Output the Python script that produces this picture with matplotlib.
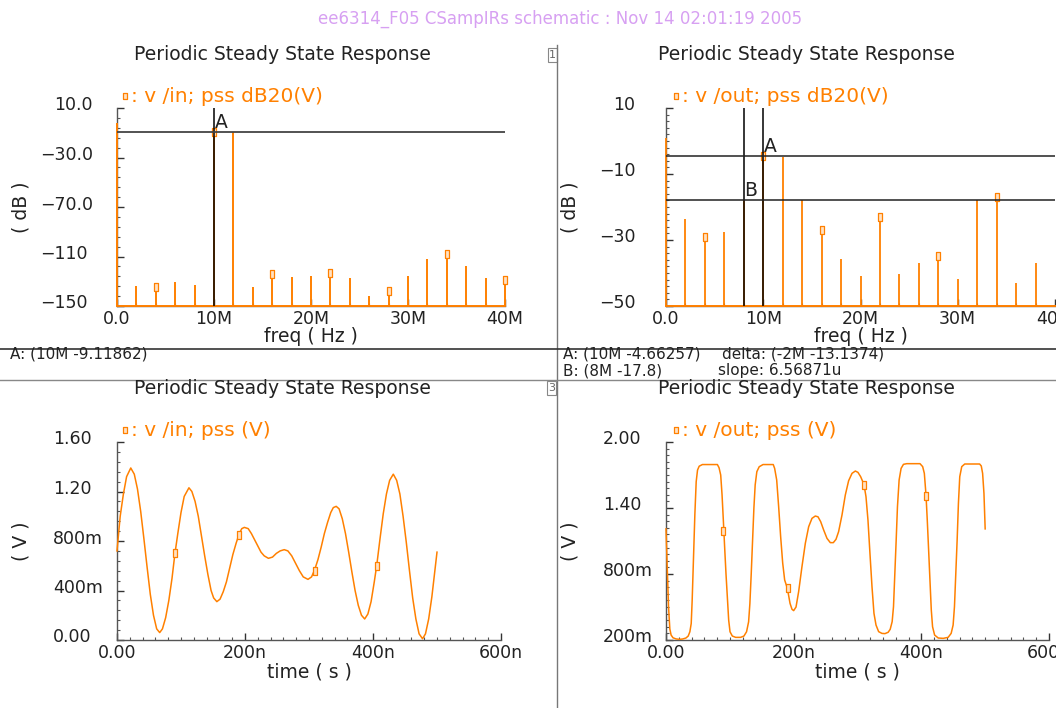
import matplotlib
matplotlib.use('Agg')
import matplotlib.pyplot as plt
import matplotlib.transforms as mtransforms
from matplotlib.path import Path
from matplotlib.patches import Rectangle
from matplotlib.lines import Line2D

# ---- data ----
freq_M = [0, 2, 4, 6, 8, 10, 12, 14, 16, 18, 20, 22, 24, 26, 28, 30, 32, 34, 36, 38, 40]
vin_db = [-2.4, -133.8, -135.0, -130.3, -132.8, -9.12, -9.12, -134.4, -124.0, -126.6, -125.8,
          -123.6, -127.4, -141.6, -137.9, -125.8, -112.0, -108.0, -117.7, -127.6, -129.0]
vout_db = [0.8, -23.7, -29.0, -27.5, -17.8, -4.66, -4.7, -17.9, -27.0, -35.8,
           -40.9, -22.9, -40.4, -36.9, -35.0, -41.8, -17.9, -16.9, -42.9, -36.9]
spec_marker_M = [4, 10, 16, 22, 28, 34, 40]

vin_t = [0, 5, 10, 15, 21.5, 27, 32, 37, 42, 47, 52, 57, 62, 66.7, 71, 76, 81, 86, 90.3, 95,
         100, 105, 112.4, 117, 122, 127, 132, 137, 142, 147, 151, 156, 161, 166, 171, 176, 181,
         186, 191, 195, 199, 205, 210, 215, 220, 225, 230, 236.6, 243, 249, 255, 261.3, 267,
         273, 279, 285, 291, 298.4, 304, 309, 314, 319, 324, 329, 334, 338, 342.5, 347, 352,
         357, 362, 367, 372, 377, 382, 387, 392, 397, 402, 406, 411, 416, 421, 426, 431.7,
         437, 442, 447, 452, 457, 462, 467, 472, 477.4, 482, 487, 492, 496, 500]
vin_v = [0.72, 1.00, 1.18, 1.32, 1.39, 1.34, 1.22, 1.04, 0.82, 0.59, 0.37, 0.20, 0.09, 0.06,
         0.09, 0.18, 0.32, 0.50, 0.69, 0.86, 1.03, 1.16, 1.23, 1.20, 1.12, 1.00, 0.84, 0.68,
         0.53, 0.40, 0.34, 0.31, 0.33, 0.39, 0.47, 0.58, 0.69, 0.78, 0.86, 0.90, 0.91, 0.90,
         0.86, 0.81, 0.76, 0.71, 0.68, 0.66, 0.67, 0.70, 0.72, 0.73, 0.72, 0.68, 0.62, 0.56,
         0.51, 0.49, 0.51, 0.57, 0.65, 0.75, 0.86, 0.95, 1.03, 1.07, 1.08, 1.06, 0.98, 0.86,
         0.71, 0.55, 0.40, 0.28, 0.20, 0.17, 0.21, 0.31, 0.47, 0.61, 0.82, 1.02, 1.18, 1.29,
         1.34, 1.29, 1.18, 1.00, 0.79, 0.56, 0.34, 0.17, 0.05, 0.01, 0.05, 0.17, 0.35, 0.53, 0.71]
vin_mark_t = [90, 191, 309, 406]
vin_mark_v = [0.70, 0.85, 0.56, 0.60]

vout_t = [0, 2, 4, 6, 8, 11, 15.6, 20.8, 26, 31.2, 34.8, 37.4, 39.5, 41, 43.1, 45.2, 47.3, 49.4,
          52, 57, 80.5, 83.1, 85.7, 87.8, 89.9, 91.9, 94, 96.1, 98.2, 100.3, 103.9, 109.1,
          116.9, 122.1, 126.2, 129.4, 131.4, 133.5, 135.6, 137.7, 139.7, 142.3, 146, 152, 168,
          170.2, 173.4, 176.5, 179.6, 182.8, 185.9, 190.1, 194.3, 197.4, 200, 203.7, 207.8,
          213, 218.3, 223.5, 228.7, 233.9, 238.1, 242.3, 247, 252.2, 257.4, 262.1, 266.3,
          270.4, 275.7, 280.9, 286.1, 291.4, 296.6, 300.7, 304.9, 310.1, 313.3, 316.4, 319.5,
          322.7, 325.8, 329, 333.1, 338.3, 343, 348, 351.2, 354.3, 356.4, 358.5, 360.6, 362.6,
          365.2, 368.3, 372, 377.2, 397.9, 402.1, 404.7, 407.3, 409.3, 411.4, 413.5, 415.6,
          417.6, 420.8, 426.5, 434.3, 442, 446.7, 449.8, 451.9, 454, 456.1, 458.1, 460.2,
          463.3, 468, 491.3, 493.9, 496, 498.1, 500]
vout_v = [1.21, 0.85, 0.50, 0.30, 0.245, 0.22, 0.21, 0.206, 0.209, 0.218, 0.236, 0.275, 0.35,
          0.56, 0.95, 1.34, 1.64, 1.745, 1.78, 1.795, 1.795, 1.766, 1.70, 1.52, 1.28, 1.04,
          0.80, 0.59, 0.38, 0.275, 0.236, 0.224, 0.224, 0.236, 0.275, 0.365, 0.53, 0.80, 1.10,
          1.40, 1.61, 1.73, 1.775, 1.795, 1.795, 1.76, 1.655, 1.41, 1.14, 0.90, 0.745, 0.67,
          0.533, 0.479, 0.467, 0.50, 0.64, 0.867, 1.08, 1.23, 1.306, 1.327, 1.32, 1.276, 1.20,
          1.124, 1.085, 1.085, 1.115, 1.185, 1.336, 1.518, 1.648, 1.715, 1.736, 1.724, 1.685,
          1.615, 1.503, 1.29, 0.988, 0.685, 0.442, 0.336, 0.276, 0.26, 0.258, 0.27, 0.297,
          0.367, 0.503, 0.806, 1.109, 1.412, 1.655, 1.76, 1.797, 1.803, 1.803, 1.776, 1.715,
          1.52, 1.29, 1.02, 0.745, 0.473, 0.32, 0.245, 0.218, 0.215, 0.224, 0.26, 0.336,
          0.503, 0.806, 1.109, 1.442, 1.685, 1.776, 1.80, 1.80, 1.782, 1.715, 1.533, 1.21]
vout_mark_t = [90, 190.4, 310, 407]
vout_mark_v = [1.19, 0.67, 1.61, 1.51]

ORANGE = '#ff8000'
MFACE = '#ffe2c4'
AXIS = '#555555'
TEXT = '#222222'
W, H = 1056, 708

fig = plt.figure(figsize=(W / 100, H / 100), dpi=100)
fig.patch.set_facecolor('white')

# tall thin box marker like the Cadence symbol
RECT = Path([(-0.25, -0.5), (0.25, -0.5), (0.25, 0.5), (-0.25, 0.5), (-0.25, -0.5)])


def add_axes_px(x0, x1, ytop, ybot):
    return fig.add_axes([x0 / W, 1 - ybot / H, (x1 - x0) / W, (ybot - ytop) / H])


def style(ax, xt, xl, xminor, yt, yl, yminor, spine_px, digits_px, xlab, ylab, xlab_gap, ylab_x):
    for s in ('top', 'right'):
        ax.spines[s].set_visible(False)
    for s in ('left', 'bottom'):
        ax.spines[s].set_color(AXIS)
        ax.spines[s].set_linewidth(1.0)
    ax.set_xticks(xt)
    ax.set_xticklabels(xl)
    ax.set_xticks(xminor, minor=True)
    ax.set_yticks(yt)
    ax.set_yticklabels(yl)
    ax.set_yticks(yminor, minor=True)
    ax.tick_params(which='both', direction='in', colors=AXIS, labelcolor=TEXT, labelsize=12.5)
    ax.tick_params(which='major', length=5, width=1, color='#333333')
    ax.tick_params(which='minor', length=2.5, width=0.8)
    ax.tick_params(axis='x', which='major', pad=3)
    ax.tick_params(axis='y', which='major', pad=(spine_px - digits_px) * 0.72)
    ax.set_facecolor('none')
    h = ax.get_position().height * H
    ax.set_xlabel(xlab, fontsize=13.5, color=TEXT)
    ax.xaxis.label.set_va('center')
    ax.xaxis.set_label_coords(0.5, -xlab_gap / h)
    ax.set_ylabel(ylab, fontsize=13.5, color=TEXT)
    ax.yaxis.label.set_va('center')
    ax.yaxis.set_label_coords((ylab_x - spine_px) / (ax.get_position().width * W), 0.5)
    for lab in ax.get_yticklabels():
        lab.set_ha('left')
        dx = -14 if lab.get_text().startswith('\u2212') else 0
        lab.set_transform(lab.get_transform() +
                          mtransforms.ScaledTranslation(dx / 100, 4.5 / 100, fig.dpi_scale_trans))


def legend_px(x, y, text):
    fig.add_artist(Line2D([x / W], [1 - y / H], marker=RECT, markersize=5, mfc=MFACE,
                          mec=ORANGE, mew=0.9, transform=fig.transFigure))
    fig.text((x + 6) / W, 1 - y / H, text, fontsize=14.5, color=ORANGE, ha='left', va='center')


freq_hz = [f * 1e6 for f in freq_M]
f_ticks = [0, 10e6, 20e6, 30e6, 40e6]
f_labels = ['0.0', '10M', '20M', '30M', '40M']
f_minor = [f * 1e6 for f in range(0, 41, 2)]

# ---- top left: v/in spectrum ----
ax1 = add_axes_px(117, 505, 108, 306)
ax1.set_xlim(0, 40e6)
ax1.set_ylim(-150, 10)
ax1.vlines(freq_hz, -150, vin_db, color=ORANGE, lw=1.4, zorder=3, clip_on=False)
ax1.axhline(-150, color=ORANGE, lw=1.4, zorder=3, clip_on=False)
mk = [vin_db[freq_M.index(m)] for m in spec_marker_M]
ax1.plot([m * 1e6 for m in spec_marker_M], mk, ls='none', marker=RECT, ms=5.5,
         mfc=MFACE, mec=ORANGE, mew=0.9, zorder=4, clip_on=False)
ax1.axvline(10e6, color='black', lw=1.1, zorder=5)
ax1.axhline(-9.11862, color='#444444', lw=1.3, zorder=5)
ax1.text(10.1e6, -9.11862, 'A', fontsize=13.5, color=TEXT, ha='left', va='bottom', zorder=6)
style(ax1, f_ticks, f_labels, f_minor,
      [-150, -110, -70, -30, 10], ['\u2212150', '\u2212110', '\u221270.0', '\u221230.0', '10.0'],
      [-150 + 8 * i for i in range(21)], 117, 54, 'freq ( Hz )', '( dB )', 31, 21)

# ---- top right: v/out spectrum ----
ax2 = add_axes_px(666, 1055, 108, 306)
ax2.set_xlim(0, 40e6)
ax2.set_ylim(-50, 10)
ax2.vlines(freq_hz[:len(vout_db)], -50, vout_db, color=ORANGE, lw=1.3, zorder=3, clip_on=False)
ax2.axhline(-50, color=ORANGE, lw=1.4, zorder=3, clip_on=False)
mk2 = [(m * 1e6, vout_db[freq_M.index(m)]) for m in spec_marker_M if freq_M.index(m) < len(vout_db)]
ax2.plot([p[0] for p in mk2], [p[1] for p in mk2], ls='none', marker=RECT, ms=5.5,
         mfc=MFACE, mec=ORANGE, mew=0.9, zorder=4)
ax2.axvline(8e6, color='black', lw=1.1, zorder=5)
ax2.axvline(10e6, color='black', lw=1.1, zorder=5)
ax2.axhline(-4.66257, color='#222222', lw=1.1, zorder=5)
ax2.axhline(-17.8, color='#222222', lw=1.1, zorder=5)
ax2.text(10.05e6, -4.66257, 'A', fontsize=13.5, color=TEXT, ha='left', va='bottom', zorder=6)
ax2.text(8.05e6, -17.8, 'B', fontsize=13.5, color=TEXT, ha='left', va='bottom', zorder=6)
style(ax2, f_ticks, f_labels, f_minor,
      [-50, -30, -10, 10], ['\u221250', '\u221230', '\u221210', '10'],
      [-50 + 2 * i for i in range(31)], 666, 613, 'freq ( Hz )', '( dB )', 31, 570)

# ---- bottom left: v/in time ----
t_ticks = [0, 200, 400, 600]
t_labels = ['0.00', '200n', '400n', '600n']
t_minor = list(range(0, 601, 20))
ax3 = add_axes_px(117, 501, 442, 640)
ax3.set_xlim(0, 600)
ax3.set_ylim(0, 1.6)
ax3.plot(vin_t, vin_v, color=ORANGE, lw=1.1, clip_on=False, zorder=3)
ax3.plot(vin_mark_t, vin_mark_v, ls='none', marker=RECT, ms=5.5, mfc=MFACE, mec=ORANGE,
         mew=0.9, zorder=4)
style(ax3, t_ticks, t_labels, t_minor,
      [0, 0.4, 0.8, 1.2, 1.6], ['0.00', '400m', '800m', '1.20', '1.60'],
      [0.08 * i for i in range(21)], 117, 53, 'time ( s )', '( V )', 32, 21)

# ---- bottom right: v/out time ----
ax4 = add_axes_px(666, 1049, 442, 640)
ax4.set_xlim(0, 600)
ax4.set_ylim(0.2, 2.0)
ax4.plot(vout_t, vout_v, color=ORANGE, lw=1.1, clip_on=False, zorder=3)
ax4.plot(vout_mark_t, vout_mark_v, ls='none', marker=RECT, ms=5.5, mfc=MFACE, mec=ORANGE,
         mew=0.9, zorder=4)
style(ax4, t_ticks, t_labels, t_minor,
      [0.2, 0.8, 1.4, 2.0], ['200m', '800m', '1.40', '2.00'],
      [0.2 + 0.06 * i for i in range(31)], 666, 603, 'time ( s )', '( V )', 32, 570)

# ---- legends ----
legend_px(125, 96, ': v /in; pss dB20(V)')
legend_px(676, 96, ': v /out; pss dB20(V)')
legend_px(125, 430, ': v /in; pss (V)')
legend_px(676, 430, ': v /out; pss (V)')

# ---- window furniture ----
fig.text(560 / W, 1 - 19 / H, 'ee6314_F05 CSampIRs schematic : Nov 14 02:01:19 2005',
         fontsize=12, color='#d7a0f2', ha='center', va='center')
for cx, cy in ((282, 55), (806, 55), (282, 389), (806, 389)):
    fig.text(cx / W, 1 - cy / H, 'Periodic Steady State Response', fontsize=13.5, color=TEXT,
             ha='center', va='center')

fig.add_artist(Line2D([557 / W, 557 / W], [1 - 45 / H, 0], color='#777777', lw=1.0))
fig.add_artist(Line2D([0, 1], [1 - 349 / H, 1 - 349 / H], color='#333333', lw=1.2))
fig.add_artist(Line2D([0, 1], [1 - 380 / H, 1 - 380 / H], color='#888888', lw=1.0))
for bx, by, num in ((548, 48, '1'), (547, 381, '3')):
    fig.add_artist(Rectangle((bx / W, 1 - (by + 14) / H), 9 / W, 14 / H, fill=False,
                             ec='#888888', lw=0.8, transform=fig.transFigure))
    fig.text((bx + 4.5) / W, 1 - (by + 7) / H, num, fontsize=8, color='#666666',
             ha='center', va='center')

fig.text(10 / W, 1 - 354 / H, 'A: (10M -9.11862)', fontsize=11, color=TEXT, va='center')
fig.text(563 / W, 1 - 354 / H, 'A: (10M -4.66257)', fontsize=11, color=TEXT, va='center')
fig.text(722 / W, 1 - 354 / H, 'delta: (-2M -13.1374)', fontsize=11, color=TEXT, va='center')
fig.text(563 / W, 1 - 371 / H, 'B: (8M -17.8)', fontsize=11, color=TEXT, va='center')
fig.text(718 / W, 1 - 371 / H, 'slope: 6.56871u', fontsize=11, color=TEXT, va='center')

fig.savefig('out.png', dpi=100, facecolor='white')
